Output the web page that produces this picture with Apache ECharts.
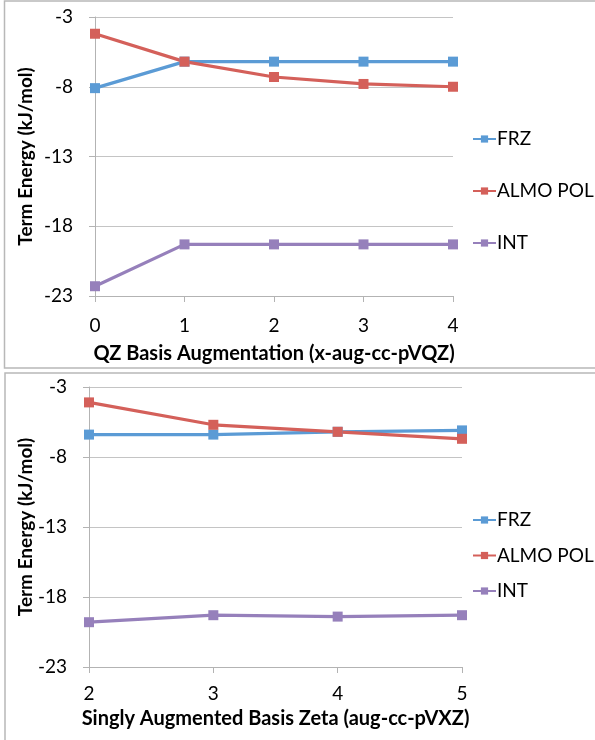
<!DOCTYPE html>
<html>
<head>
<meta charset="utf-8">
<script src="https://cdn.jsdelivr.net/npm/echarts@6/dist/echarts.min.js"></script>
<style>
  html, body { margin: 0; padding: 0; background: #fff; }
  #chart { width: 595px; height: 740px; }
</style>
</head>
<body>
<div id="chart"></div>
<script>
// Upper panel: QZ basis augmentation level (x-aug-cc-pVQZ)
const qzAugmentation = ['0', '1', '2', '3', '4'];
const qzFRZ     = [-8.1, -6.2, -6.2, -6.2, -6.2];
const qzALMOPOL = [-4.2, -6.2, -7.3, -7.8, -8.0];
const qzINT     = [-22.3, -19.3, -19.3, -19.3, -19.3];

// Lower panel: singly augmented basis zeta (aug-cc-pVXZ)
const zetaLevels  = ['2', '3', '4', '5'];
const zetaFRZ     = [-6.4, -6.4, -6.2, -6.1];
const zetaALMOPOL = [-4.1, -5.7, -6.2, -6.7];
const zetaINT     = [-19.8, -19.3, -19.4, -19.3];

// Shared energy axis ticks (kJ/mol)
const energyTicks = [-23, -18, -13, -8, -3];
const seriesNames = ['FRZ', 'ALMO POL', 'INT'];

const FONT = 'Lato, "Open Sans", sans-serif';
const COLORS = ['#5b9bd5', '#d4605a', '#9680bb'];
const AXIS_GRAY = '#b3b3b3';
const GRID_GRAY = '#c4c4c4';

function energyAxis(gridIndex, nameGap) {
  return {
    type: 'value',
    gridIndex: gridIndex,
    min: -23,
    max: -3,
    name: 'Term Energy (kJ/mol)',
    nameLocation: 'middle',
    nameRotate: 90,
    nameGap: nameGap,
    nameMoveOverlap: false,
    nameTextStyle: { fontFamily: FONT, fontWeight: 'bold', fontSize: 19, color: '#000' },
    axisLine: { show: true, lineStyle: { color: AXIS_GRAY, width: 1 } },
    axisTick: { show: true, length: 6, customValues: energyTicks, lineStyle: { color: AXIS_GRAY } },
    axisLabel: { customValues: energyTicks, margin: 22, fontFamily: FONT, fontSize: 19, color: '#000' },
    splitLine: { show: true, lineStyle: { color: GRID_GRAY, width: 1 } }
  };
}

function basisAxis(gridIndex, cats, name, labelMargin, nameGap) {
  return {
    type: 'category',
    gridIndex: gridIndex,
    data: cats,
    boundaryGap: false,
    name: name,
    nameLocation: 'middle',
    nameGap: nameGap,
    nameMoveOverlap: false,
    nameTextStyle: { fontFamily: FONT, fontWeight: 'bold', fontSize: 20, color: '#000' },
    axisLine: { show: true, lineStyle: { color: AXIS_GRAY, width: 1 } },
    axisTick: { show: true, length: 6, alignWithLabel: true, lineStyle: { color: AXIS_GRAY } },
    axisLabel: { margin: labelMargin, fontFamily: FONT, fontSize: 19, color: '#000' },
    splitLine: { show: false }
  };
}

function lineSeries(name, data, idx, axisIndex) {
  return {
    name: name,
    type: 'line',
    xAxisIndex: axisIndex,
    yAxisIndex: axisIndex,
    data: data,
    symbol: 'rect',
    symbolSize: 10,
    showSymbol: true,
    color: COLORS[idx],
    lineStyle: { width: 3.2, color: COLORS[idx] },
    itemStyle: { color: COLORS[idx] },
    emphasis: { disabled: true },
    animation: false
  };
}

function legendBlock(top, gap) {
  return {
    data: seriesNames,
    orient: 'vertical',
    left: 467,
    top: top,
    itemGap: gap,
    itemWidth: 23,
    itemHeight: 9,
    selectedMode: false,
    textStyle: { fontFamily: FONT, fontSize: 19, color: '#000', lineHeight: 20, padding: [0, 0, 0, -4] }
  };
}

const chart = echarts.init(document.getElementById('chart'), null, { renderer: 'canvas' });

chart.setOption({
  animation: false,
  backgroundColor: '#fff',
  graphic: [
    { type: 'rect', shape: { x: 4.5, y: 1, width: 700, height: 367 },
      style: { fill: 'none', stroke: '#b8b8b8', lineWidth: 1.5 }, silent: true, z: -1 },
    { type: 'rect', shape: { x: 5, y: 373, width: 700, height: 400 },
      style: { fill: 'none', stroke: '#b8b8b8', lineWidth: 1.5 }, silent: true, z: -1 }
  ],
  grid: [
    { left: 95, right: 142, top: 17, height: 279 },
    { left: 89, right: 133, top: 387, height: 280 }
  ],
  legend: [legendBlock(124, 32), legendBlock(505, 15.5)],
  xAxis: [
    basisAxis(0, qzAugmentation, 'QZ Basis Augmentation (x-aug-cc-pVQZ)', 20, 48),
    basisAxis(1, zetaLevels, 'Singly Augmented Basis Zeta (aug-cc-pVXZ)', 17, 42)
  ],
  yAxis: [energyAxis(0, 60), energyAxis(1, 54)],
  series: [
    lineSeries('FRZ', qzFRZ, 0, 0),
    lineSeries('ALMO POL', qzALMOPOL, 1, 0),
    lineSeries('INT', qzINT, 2, 0),
    lineSeries('FRZ', zetaFRZ, 0, 1),
    lineSeries('ALMO POL', zetaALMOPOL, 1, 1),
    lineSeries('INT', zetaINT, 2, 1)
  ]
});
</script>
</body>
</html>
